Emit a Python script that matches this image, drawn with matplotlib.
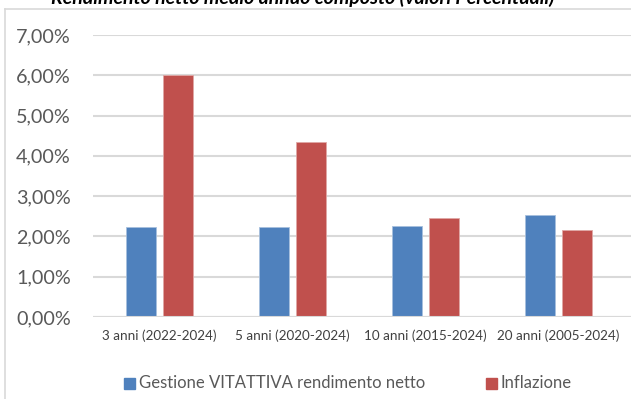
import matplotlib
matplotlib.use("Agg")
import matplotlib.pyplot as plt
import numpy as np
from matplotlib.lines import Line2D
from matplotlib.patches import Rectangle

categories = ["3 anni (2022-2024)", "5 anni (2020-2024)", "10 anni (2015-2024)", "20 anni (2005-2024)"]
gestione = [2.23, 2.23, 2.25, 2.54]
inflazione = [6.00, 4.35, 2.45, 2.15]
series_names = ["Gestione VITATTIVA rendimento netto", "Inflazione"]
title = "Rendimento netto medio annuo composto (valori Percentuali)"
yticks = [0, 1, 2, 3, 4, 5, 6, 7]

BLUE = "#4F81BD"
RED = "#C0504D"
GRID = "#D9D9D9"
TEXT = "#595959"
FONT = "Lato"

W, H = 631, 399
fig = plt.figure(figsize=(W / 100, H / 100), dpi=100)

# chart frame
fig.add_artist(Line2D([5 / W, 5 / W], [0, 1 - 9 / H], color=GRID, lw=1.2, transform=fig.transFigure))
fig.add_artist(Line2D([5 / W, 1], [1 - 9 / H, 1 - 9 / H], color=GRID, lw=1.2, transform=fig.transFigure))

left, right = 93 / W, 1.0
bottom, top = 1 - 317 / H, 1 - 35 / H
ax = fig.add_axes([left, bottom, right - left, top - bottom])

x = np.arange(len(categories))
bw = 0.225
off = 0.142
ax.bar(x - off, gestione, bw, color=BLUE, edgecolor="#A7C0DE", linewidth=0.6, zorder=3)
ax.bar(x + off, inflazione, bw, color=RED, edgecolor="#E0A8A6", linewidth=0.6, zorder=3)

ax.set_ylim(0, 7)
ax.set_xlim(-0.5, -0.5 + (W - 93) / 133)
ax.set_yticks(yticks)
ax.set_yticklabels([f"{v:.2f}%".replace(".", ",") for v in yticks], fontsize=14.2, color=TEXT, family=FONT)
ax.set_xticks(x)
ax.set_xticklabels(categories, fontsize=9.7, color="#404040", family=FONT)
ax.tick_params(axis="y", length=0, pad=16)
ax.tick_params(axis="x", length=0, pad=9)
ax.grid(axis="y", color=GRID, lw=1.5, zorder=0)
for s in ax.spines.values():
    s.set_visible(False)
ax.axhline(0, color=GRID, lw=1.5, zorder=4)

fig.text(303 / W, 1 - 4 / H, title, ha="center", va="baseline", fontsize=14,
         fontweight="bold", fontstyle="italic", family=FONT, color="#000000")

# legend
ly = 1 - 383 / H
for px, col, name in [(124, BLUE, series_names[0]), (486, RED, series_names[1])]:
    fig.add_artist(Rectangle((px / W, ly - 5.5 / H), 11 / W, 11 / H, color=col, transform=fig.transFigure))
    fig.text((px + 15) / W, ly, name, ha="left", va="center", fontsize=12, color=TEXT, family=FONT)

fig.savefig("out.png", dpi=100)
